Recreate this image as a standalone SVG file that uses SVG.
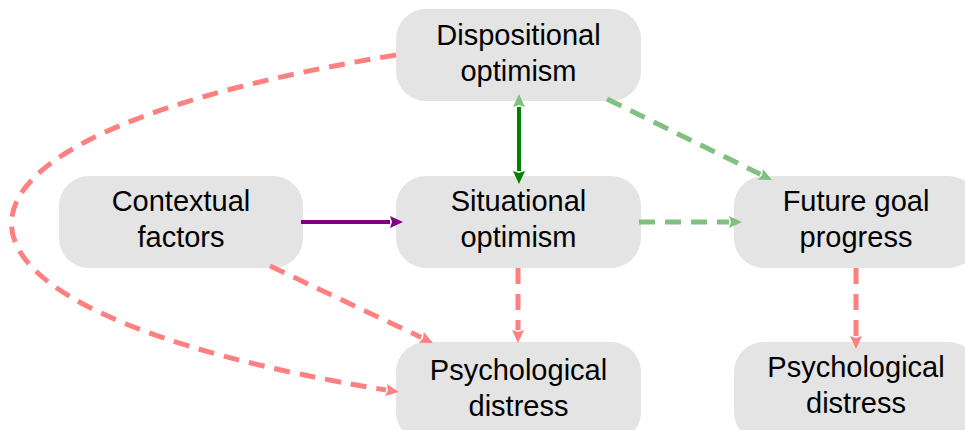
<svg xmlns="http://www.w3.org/2000/svg" width="965" height="430" viewBox="0 0 965 430">
  <style>
    .box { fill: #e4e4e4; }
    .lbl { font-family: "Liberation Sans", Arial, sans-serif; font-size: 29px; fill: #000; text-anchor: middle; }
    .dash { fill: none; stroke-width: 5; stroke-dasharray: 16 10; }
    .red { stroke: #ff8080; }
    .lgreen { stroke: #80c080; }
  </style>
  <defs>
    <marker id="ah-red" markerUnits="userSpaceOnUse" markerWidth="14" markerHeight="14" refX="0" refY="6" orient="auto" viewBox="0 0 14 12">
      <path d="M0,0 L13,6 L0,12 L2,6 z" fill="#ff8080"/>
    </marker>
    <marker id="ah-lgreen" markerUnits="userSpaceOnUse" markerWidth="14" markerHeight="14" refX="0" refY="6" orient="auto" viewBox="0 0 14 12">
      <path d="M0,0 L13,6 L0,12 L2,6 z" fill="#80c080"/>
    </marker>
    <marker id="ah-lgreen-start" markerUnits="userSpaceOnUse" markerWidth="14" markerHeight="14" refX="0" refY="6" orient="auto-start-reverse" viewBox="0 0 14 12">
      <path d="M0,0 L13,6 L0,12 L2,6 z" fill="#80c080"/>
    </marker>
    <marker id="ah-dgreen" markerUnits="userSpaceOnUse" markerWidth="14" markerHeight="14" refX="0" refY="6" orient="auto" viewBox="0 0 14 12">
      <path d="M0,0 L13,6 L0,12 L2,6 z" fill="#008000"/>
    </marker>
    <marker id="ah-purple" markerUnits="userSpaceOnUse" markerWidth="14" markerHeight="14" refX="0" refY="6" orient="auto" viewBox="0 0 14 12">
      <path d="M0,0 L13,6 L0,12 L2,6 z" fill="#800080"/>
    </marker>
  </defs>

  <!-- nodes -->
  <g id="dispositional-optimism">
    <rect class="box" x="396" y="9" width="245" height="92" rx="30"/>
    <text class="lbl" x="518.5" y="45">Dispositional</text>
    <text class="lbl" x="518.5" y="81">optimism</text>
  </g>
  <g id="contextual-factors">
    <rect class="box" x="59" y="176" width="244" height="92" rx="30"/>
    <text class="lbl" x="181" y="211">Contextual</text>
    <text class="lbl" x="181" y="247">factors</text>
  </g>
  <g id="situational-optimism">
    <rect class="box" x="396" y="176" width="245" height="92" rx="30"/>
    <text class="lbl" x="518.5" y="211">Situational</text>
    <text class="lbl" x="518.5" y="247">optimism</text>
  </g>
  <g id="future-goal-progress">
    <rect class="box" x="734" y="176" width="244" height="92" rx="30"/>
    <text class="lbl" x="856" y="211">Future goal</text>
    <text class="lbl" x="856" y="247">progress</text>
  </g>
  <g id="psychological-distress-1">
    <rect class="box" x="396" y="342" width="245" height="100" rx="30"/>
    <text class="lbl" x="518.5" y="380">Psychological</text>
    <text class="lbl" x="518.5" y="416">distress</text>
  </g>
  <g id="psychological-distress-2">
    <rect class="box" x="734" y="342" width="244" height="100" rx="30"/>
    <text class="lbl" x="856" y="377">Psychological</text>
    <text class="lbl" x="856" y="413">distress</text>
  </g>

  <!-- connectors -->
  <g id="connectors">
    <path d="M301,222 L390,222" stroke="#800080" stroke-width="4" fill="none" marker-end="url(#ah-purple)"/>
    <path d="M519,107 L519,171" stroke="#008000" stroke-width="4" fill="none" marker-start="url(#ah-lgreen-start)" marker-end="url(#ah-dgreen)"/>
    <path class="dash lgreen" d="M607,99 L760.3,174.3" marker-end="url(#ah-lgreen)"/>
    <path class="dash lgreen" d="M639,222 L729,222" marker-end="url(#ah-lgreen)"/>
    <path class="dash red" d="M518,268 L518,330" marker-end="url(#ah-red)"/>
    <path class="dash red" d="M856,268 L856,336" marker-end="url(#ah-red)"/>
    <path class="dash red" d="M270,266 L421.2,337.4" marker-end="url(#ah-red)"/>
    <path class="dash red" d="M396,55 C -125,140 -105,310 386,390" marker-end="url(#ah-red)"/>
  </g>
</svg>
